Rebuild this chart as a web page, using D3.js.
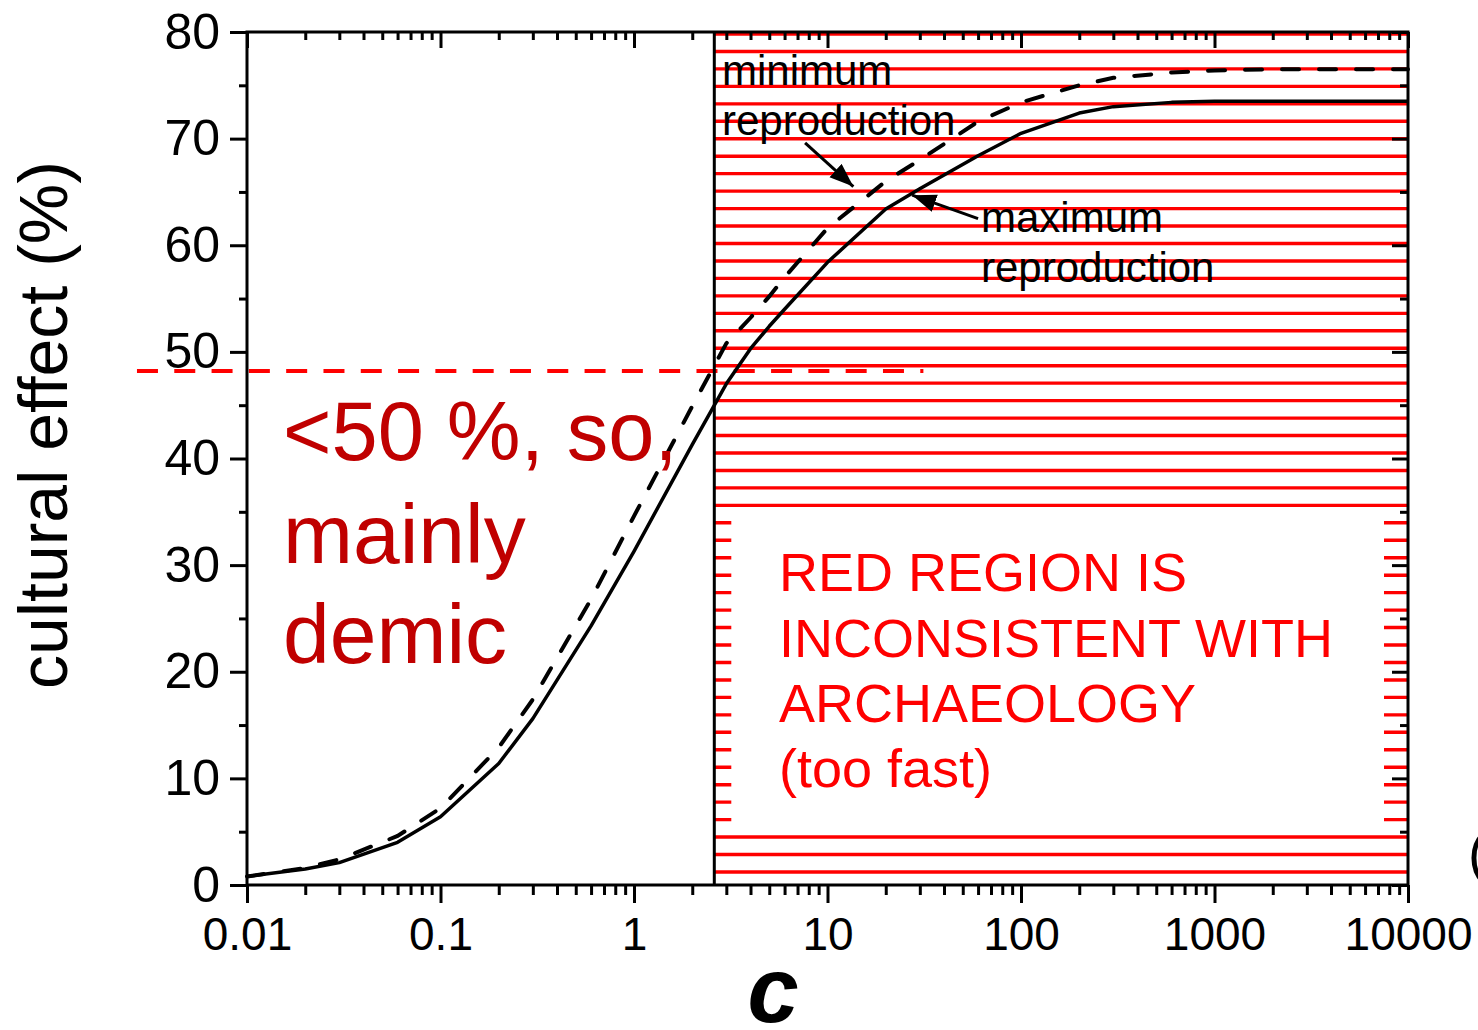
<!DOCTYPE html>
<html>
<head>
<meta charset="utf-8">
<script src="https://cdn.jsdelivr.net/npm/d3@7/dist/d3.min.js"></script>
<style>
  body { margin: 0; background: #fff; }
  text { font-family: "Liberation Sans", Arial, sans-serif; }
</style>
</head>
<body>
<div id="chart"></div>
<script>

// c values where the two curves were computed
var cValues = [0.01, 0.02, 0.03, 0.06, 0.1, 0.2, 0.3, 0.6, 1, 2, 3, 4, 5, 6, 10, 20, 30, 60, 100, 200, 300, 600, 1000, 2000, 3000, 6000, 10000];
// cultural effect (%) - maximum reproduction (solid)
var maxRepro = [0.8, 1.5, 2.1, 4.0, 6.4, 11.4, 15.6, 24.3, 31.3, 41.3, 47.0, 50.3, 52.4, 54.0, 58.4, 63.4, 65.3, 68.4, 70.5, 72.4, 73.0, 73.4, 73.5, 73.5, 73.5, 73.5, 73.5];
// cultural effect (%) - minimum reproduction (dashed)
var minRepro = [0.8, 1.6, 2.4, 4.6, 7.2, 12.9, 17.4, 26.8, 34.6, 44.9, 50.8, 53.2, 55.2, 57.0, 61.6, 66.0, 68.0, 71.6, 73.4, 75.0, 75.7, 76.2, 76.4, 76.5, 76.5, 76.5, 76.5];

var xTickValues = [0.01, 0.1, 1, 10, 100, 1000, 10000];
var xTickLabels = ["0.01", "0.1", "1", "10", "100", "1000", "10000"];
var yTickValues = [0, 10, 20, 30, 40, 50, 60, 70, 80];
var yMinorTicks = [5, 15, 25, 35, 45, 55, 65, 75];

var cLimit = 2.6;                   // left edge of the red region
var threshold = 48.2;               // red dashed line level
var thresholdSpan = [0.0027, 31.3]; // c extent of the red dashed line

var margin = { top: 32, right: 70, bottom: 145, left: 247 },
    width = 1161,
    height = 853;

var svg = d3.select("#chart")
    .append("svg")
    .attr("width", 1478)
    .attr("height", 1030);

var g = svg.append("g")
    .attr("transform", "translate(" + margin.left + "," + margin.top + ")");

var x = d3.scaleLog().domain([0.01, 10000]).range([0, width]);
var y = d3.scaleLinear().domain([0, 80]).range([height, 0]);

var xMinorTicks = [];
xTickValues.slice(0, -1).forEach(function (d) {
    for (var k = 2; k <= 9; k++) xMinorTicks.push(d * k);
});

// arrow head
svg.append("defs").append("marker")
    .attr("id", "arrow")
    .attr("markerUnits", "userSpaceOnUse")
    .attr("markerWidth", 26).attr("markerHeight", 20)
    .attr("refX", 24).attr("refY", 9)
    .attr("orient", "auto")
    .append("path")
    .attr("d", "M0,0 L24,9 L0,18 Z")
    .attr("fill", "#000");

// red hatched region
var x0 = x(cLimit);
var hatch = g.append("g");
hatch.selectAll("line")
    .data(d3.range(49))
    .enter().append("line")
    .attr("x1", x0).attr("x2", width)
    .attr("y1", function (i) { return 2 + i * 17.458; })
    .attr("y2", function (i) { return 2 + i * 17.458; })
    .attr("stroke", "#ff0000")
    .attr("stroke-width", 3.4);

// white box behind the region text
g.append("rect")
    .attr("x", x0 + 17).attr("y", 480)
    .attr("width", width - 24 - (x0 + 17)).attr("height", 317)
    .attr("fill", "#fff");

// red dashed 50% line
g.append("line")
    .attr("x1", x(thresholdSpan[0])).attr("x2", x(thresholdSpan[1]))
    .attr("y1", y(threshold)).attr("y2", y(threshold))
    .attr("stroke", "#ff0000")
    .attr("stroke-width", 4)
    .attr("stroke-dasharray", "21,16.3");

// curves
var line = d3.line()
    .x(function (d) { return x(d.c); })
    .y(function (d) { return y(d.v); });

var solidData = cValues.map(function (c, i) { return { c: c, v: maxRepro[i] }; });
var dashData = cValues.map(function (c, i) { return { c: c, v: minRepro[i] }; });

g.append("path")
    .datum(solidData)
    .attr("d", line)
    .attr("fill", "none")
    .attr("stroke", "#000")
    .attr("stroke-width", 3.5)
    .attr("stroke-linejoin", "round");

g.append("path")
    .datum(dashData)
    .attr("d", line)
    .attr("fill", "none")
    .attr("stroke", "#000")
    .attr("stroke-width", 4)
    .attr("stroke-linecap", "round")
    .attr("stroke-dasharray", "17,20");

// vertical boundary of red region
g.append("line")
    .attr("x1", x0).attr("x2", x0)
    .attr("y1", 0).attr("y2", height)
    .attr("stroke", "#000")
    .attr("stroke-width", 3);

// axes
function styleAxis(sel) {
    sel.select(".domain").remove();
    sel.selectAll(".tick line").attr("stroke", "#000").attr("stroke-width", 3);
}

g.append("g")
    .attr("transform", "translate(0," + height + ")")
    .call(d3.axisBottom(x).tickValues(xTickValues)
        .tickFormat(function (d, i) { return xTickLabels[i]; })
        .tickSize(18).tickPadding(14))
    .call(styleAxis)
    .selectAll("text").attr("font-size", 46).attr("fill", "#000")
    .style("font-family", "'Liberation Sans', Arial, sans-serif");

g.append("g")
    .attr("transform", "translate(0," + height + ")")
    .call(d3.axisBottom(x).tickValues(xMinorTicks).tickFormat("").tickSize(10))
    .call(styleAxis);

g.append("g")
    .call(d3.axisTop(x).tickValues(xTickValues).tickFormat("").tickSize(-16))
    .call(styleAxis);
g.append("g")
    .call(d3.axisTop(x).tickValues(xMinorTicks).tickFormat("").tickSize(-8))
    .call(styleAxis);

g.append("g")
    .call(d3.axisLeft(y).tickValues(yTickValues).tickSize(17).tickPadding(10))
    .call(styleAxis)
    .selectAll("text").attr("font-size", 50).attr("fill", "#000")
    .style("font-family", "'Liberation Sans', Arial, sans-serif");
g.append("g")
    .call(d3.axisLeft(y).tickValues(yMinorTicks).tickFormat("").tickSize(8))
    .call(styleAxis);

g.append("g")
    .attr("transform", "translate(" + width + ",0)")
    .call(d3.axisRight(y).tickValues(yTickValues).tickFormat("").tickSize(-16))
    .call(styleAxis);
g.append("g")
    .attr("transform", "translate(" + width + ",0)")
    .call(d3.axisRight(y).tickValues(yMinorTicks).tickFormat("").tickSize(-8))
    .call(styleAxis);

// frame
g.append("rect")
    .attr("width", width).attr("height", height)
    .attr("fill", "none")
    .attr("stroke", "#000")
    .attr("stroke-width", 3);

// arrows
function arrow(c1, v1, c2, v2) {
    g.append("line")
        .attr("x1", x(c1)).attr("y1", y(v1))
        .attr("x2", x(c2)).attr("y2", y(v2))
        .attr("stroke", "#000")
        .attr("stroke-width", 3)
        .attr("marker-end", "url(#arrow)");
}
arrow(7.66, 69.6, 13.6, 65.5);
arrow(60, 62.5, 27.4, 64.7);

// labels
function label(txt, px, py, size, color) {
    return svg.append("text")
        .attr("x", px).attr("y", py)
        .attr("font-size", size)
        .attr("fill", color)
        .text(txt);
}

label("minimum", 722, 85, 42, "#000");
label("reproduction", 722, 135, 42, "#000");
label("maximum", 981, 232, 42, "#000");
label("reproduction", 981, 282, 42, "#000");

label("<50 %, so,", 283, 460, 83, "#c00000");
label("mainly", 283, 563, 84, "#c00000");
label("demic", 283, 663, 84, "#c00000");

label("RED REGION IS", 779, 591, 54, "#ff0000");
label("INCONSISTENT WITH", 779, 657, 54, "#ff0000");
label("ARCHAEOLOGY", 779, 722, 54, "#ff0000");
label("(too fast)", 779, 787, 54, "#ff0000");

// axis titles
svg.append("text")
    .attr("transform", "translate(67,425) rotate(-90)")
    .attr("text-anchor", "middle")
    .attr("font-size", 68)
    .text("cultural effect (%)");

svg.append("text")
    .attr("x", 773).attr("y", 1022)
    .attr("text-anchor", "middle")
    .attr("font-size", 92)
    .attr("font-weight", "bold")
    .attr("font-style", "italic")
    .text("c");

label("(", 1468, 872, 56, "#000");

</script>
</body>
</html>
